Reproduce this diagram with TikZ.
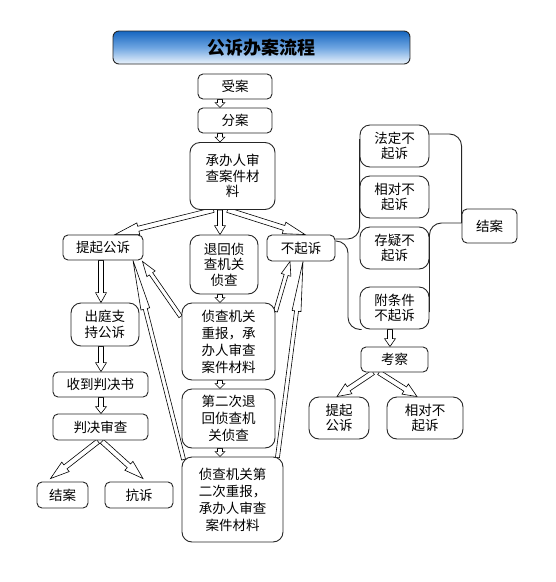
\documentclass[tikz,border=0pt]{standalone}
\usepackage{fontspec}
\newfontfamily\cjk{Noto Sans CJK SC}
\usetikzlibrary{calc,backgrounds}
\newcommand\blockarrow[5]{%
  \coordinate (baA) at #1;
  \coordinate (baB) at #2;
  \coordinate (baH) at ($(baB)!#3pt!(baA)$);
  \draw[barrow] ($(baA)!#5pt!90:(baB)$) -- ($(baH)!#5pt!90:(baB)$) -- ($(baH)!#4pt!90:(baB)$) -- (baB)
    -- ($(baH)!#4pt!-90:(baB)$) -- ($(baH)!#5pt!-90:(baB)$) -- ($(baA)!#5pt!-90:(baB)$) -- cycle;
}
\tikzset{
  box/.style={draw=black!85, line width=0.9pt, fill=white, rounded corners=5pt, inner sep=0pt, align=center,
    font=\cjk\fontsize{13.5}{15.5}\selectfont},
  bigbox/.style={box, rounded corners=10pt},
  tallbox/.style={bigbox, font=\cjk\fontsize{13.5}{17}\selectfont},
  barrow/.style={draw=black, line width=0.6pt, fill=white, line join=miter},
  brace/.style={draw=black!85, line width=0.9pt, rounded corners=12pt},
}
\begin{document}
\begin{tikzpicture}[x=1pt,y=-1pt]
\useasboundingbox (0,0) rectangle (556,582);
% title
\node[draw=black!85, line width=0.9pt, rounded corners=6pt, minimum width=297, minimum height=33, inner sep=0pt,
  top color={rgb,255:red,22;green,102;blue,192}, bottom color={rgb,255:red,236;green,244;blue,252},
  middle color={rgb,255:red,110;green,165;blue,225},
  font=\cjk\bfseries\fontsize{18}{20}\selectfont] (title) at (261.5,47.5) {公诉办案流程};
% main column
\node[box, minimum width=74, minimum height=25] (shouan) at (235,86.5) {受案};
\node[box, minimum width=74, minimum height=25] (fenan) at (235,120.5) {分案};
\node[bigbox, minimum width=85, minimum height=67] (chengban) at (232.5,176) {承办人审\\查案件材\\料};
\node[box, minimum width=80, minimum height=25] (tiqi) at (103,247.5) {提起公诉};
\node[bigbox, minimum width=68, minimum height=59] (tuihui) at (224,264.5) {退回侦\\查机关\\侦查};
\node[box, minimum width=68, minimum height=26] (buqisu) at (301,248) {不起诉};
\node[tallbox, minimum width=93, minimum height=77] (chongbao) at (228.5,341.5) {侦查机关\\重报，承\\办人审查\\案件材料};
\node[tallbox, minimum width=93, minimum height=59] (dierci) at (228.5,418.5) {第二次退\\回侦查机\\关侦查};
\node[tallbox, minimum width=101, minimum height=85] (chongbaoB) at (232.5,499.5) {侦查机关第\\二次重报，\\承办人审查\\案件材料};
% left column
\node[bigbox, minimum width=68, minimum height=43] (chuting) at (105,324.5) {出庭支\\持公诉};
\node[box, minimum width=95, minimum height=25] (shoudao) at (100.5,384.5) {收到判决书};
\node[box, minimum width=95, minimum height=26] (panjue) at (100.5,427) {判决审查};
\node[box, minimum width=51, minimum height=26] (jieanA) at (62.5,495) {结案};
\node[box, minimum width=68, minimum height=26] (kangsu) at (139,495) {抗诉};
% right column
\node[bigbox, minimum width=69, minimum height=42] (fading) at (394.5,146) {法定不\\起诉};
\node[bigbox, minimum width=69, minimum height=42] (xiangdui) at (394.5,197) {相对不\\起诉};
\node[bigbox, minimum width=69, minimum height=42] (cunyi) at (394.5,248) {存疑不\\起诉};
\node[bigbox, minimum width=69, minimum height=42] (fujian) at (394.5,308) {附条件\\不起诉};
\node[box, minimum width=55, minimum height=34] (jieanB) at (489.5,226) {结案};
\node[box, minimum width=67, minimum height=25] (kaocha) at (394.5,359.5) {考察};
\node[bigbox, minimum width=60, minimum height=42] (tiqiB) at (339,418) {提起\\公诉};
\node[bigbox, minimum width=76, minimum height=42] (xiangduiB) at (425,418) {相对不\\起诉};
% braces
\coordinate (lb) at (348,0);
\coordinate (rb) at (446,0);
\draw[brace] ($(buqisu.east)+(0,-9)$) -| ($(fading.west)+(0,5)$ -| lb) -- ($(fading.west)+(0,5)$);
\draw[brace] ($(buqisu.east)+(0,-7)$) -| (fujian.south west -| lb) -- ($(fujian.south west)+(2,0)$);
\draw[brace] ($(fading.east)+(0,-12)$) -| ($(jieanB.west)+(0,-3)$ -| rb) -- ($(jieanB.west)+(0,-3)$);
\draw[brace] ($(jieanB.west)+(0,-3)$) -| ($(fujian.east)+(0,4)$ -| rb) -- ($(fujian.east)+(0,4)$);
% arrows
\coordinate (cx) at (220,0);
\coordinate (lx) at (101,0);
\coordinate (rx) at (390,0);
\begin{scope}[on background layer]
\blockarrow{(shouan.south -| cx)}{(fenan.north -| cx)}{5}{5}{2.5}
\blockarrow{(fenan.south -| cx)}{(chengban.north -| cx)}{5}{5}{2.5}
\blockarrow{(chengban.south -| cx)}{(tuihui.north -| cx)}{9}{5.5}{2.5}
\blockarrow{($(chengban.south)+(-19,0)$)}{($(tiqi.north)+(12,0)$)}{24}{6}{2.5}
\blockarrow{($(chengban.south)+(-5,0)$)}{($(buqisu.north)+(4,0)$)}{22}{6}{2.5}
\blockarrow{(tuihui.south -| cx)}{(chongbao.north -| cx)}{5}{5}{2.5}
\blockarrow{(chongbao.south -| cx)}{(dierci.north -| cx)}{5}{5}{2.5}
\blockarrow{(dierci.south -| cx)}{(chongbaoB.north -| cx)}{5}{5}{2.5}
\blockarrow{(tiqi.south -| lx)}{(chuting.north -| lx)}{10}{5.5}{2.5}
\blockarrow{(chuting.south -| lx)}{(shoudao.north -| lx)}{9}{5.5}{2.5}
\blockarrow{(shoudao.south -| lx)}{(panjue.north -| lx)}{7}{5.5}{2.5}
\blockarrow{($(panjue.south)+(-2.5,1)$)}{($(jieanA.north)+(-12,-3)$)}{19}{6}{2.5}
\blockarrow{($(panjue.south)+(1.5,1)$)}{($(kangsu.north)+(4,-3)$)}{19}{6}{2.5}
\blockarrow{($(chongbao.west)+(-1,-25)$)}{($(tiqi.south east)+(-1,1)$)}{15}{5}{2}
\blockarrow{($(chongbaoB.north west)+(2,3)$)}{($(tiqi.south)+(30,0)$)}{50}{4.5}{2}
\blockarrow{($(chongbao.east)+(0,-30)$)}{($(buqisu.south)+(-11,0)$)}{14}{5}{2}
\blockarrow{($(chongbaoB.north east)+(-6,1)$)}{($(buqisu.south)+(2,0)$)}{50}{4.5}{2}
\blockarrow{(fujian.south -| rx)}{(kaocha.north -| rx)}{8}{5.5}{2.5}
\blockarrow{($(kaocha.south)+(-21.5,0)$)}{($(tiqiB.north)+(-2,0)$)}{14}{6}{2.5}
\blockarrow{($(kaocha.south)+(-15.5,0)$)}{($(xiangduiB.north)+(-8,0)$)}{14}{6}{2.5}
\end{scope}
\end{tikzpicture}
\end{document}
